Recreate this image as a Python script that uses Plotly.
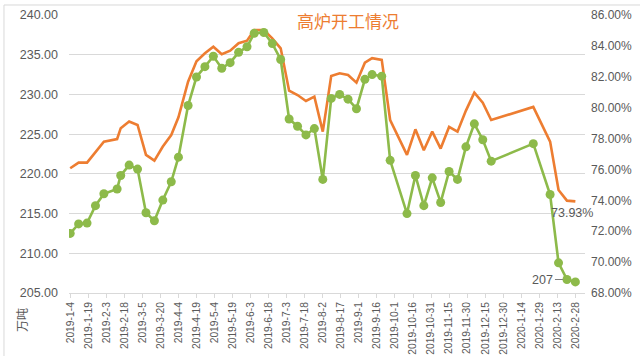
import plotly.graph_objects as go

dates = [
    "2019-01-04", "2019-01-11", "2019-01-18", "2019-01-25", "2019-02-01", "2019-02-12",
    "2019-02-15", "2019-02-22", "2019-03-01", "2019-03-08", "2019-03-15", "2019-03-22",
    "2019-03-29", "2019-04-04", "2019-04-12", "2019-04-19", "2019-04-26", "2019-05-03",
    "2019-05-10", "2019-05-17", "2019-05-24", "2019-05-31", "2019-06-06", "2019-06-14",
    "2019-06-21", "2019-06-28", "2019-07-05", "2019-07-12", "2019-07-19", "2019-07-26",
    "2019-08-02", "2019-08-09", "2019-08-16", "2019-08-23", "2019-08-30", "2019-09-06",
    "2019-09-12", "2019-09-20", "2019-09-27", "2019-10-11", "2019-10-18", "2019-10-25",
    "2019-11-01", "2019-11-08", "2019-11-15", "2019-11-22", "2019-11-29", "2019-12-06",
    "2019-12-13", "2019-12-20", "2020-01-24", "2020-02-07", "2020-02-14", "2020-02-21",
    "2020-02-28",
]

# 铁水产量 (万吨) - left axis
output = [
    212.5, 213.7, 213.8, 216.0, 217.5, 218.1,
    219.8, 221.1, 220.6, 215.1, 214.1, 216.7,
    219.0, 222.1, 228.6, 232.2, 233.5, 234.8,
    233.3, 234.0, 235.3, 236.0, 237.7, 237.8,
    236.4, 234.4, 226.9, 226.0, 224.9, 225.7,
    219.3, 229.5, 230.0, 229.4, 228.2, 231.9,
    232.5, 232.3, 221.7, 215.0, 219.8, 216.0,
    219.5, 216.4, 220.3, 219.3, 223.4, 226.3,
    224.3, 221.6, 223.8, 217.4, 208.8, 206.7,
    206.4,
]

# 高炉开工率 (%) - right axis
rate = [
    76.08, 76.44, 76.44, 77.15, 77.80, 77.97,
    78.67, 79.10, 78.88, 76.94, 76.57, 77.48,
    78.23, 79.38, 81.68, 83.00, 83.52, 83.95,
    83.46, 83.69, 84.17, 84.34, 85.03, 85.03,
    84.49, 83.84, 81.10, 80.82, 80.43, 80.71,
    78.45, 82.05, 82.23, 82.12, 81.62, 82.91,
    83.20, 83.09, 79.20, 76.94, 78.60, 77.24,
    78.45, 77.35, 78.75, 78.45, 79.81, 80.97,
    80.32, 79.20, 80.05, 77.80, 74.67, 73.98,
    73.93,
]

tick_dates = [
    "2019-01-04", "2019-01-19", "2019-02-03", "2019-02-18", "2019-03-05", "2019-03-20",
    "2019-04-04", "2019-04-19", "2019-05-04", "2019-05-19", "2019-06-03", "2019-06-18",
    "2019-07-03", "2019-07-18", "2019-08-02", "2019-08-17", "2019-09-01", "2019-09-16",
    "2019-10-01", "2019-10-16", "2019-10-31", "2019-11-15", "2019-11-30", "2019-12-15",
    "2019-12-30", "2020-01-14", "2020-01-29", "2020-02-13", "2020-02-28",
]
tick_labels = [
    "2019-1-4", "2019-1-19", "2019-2-3", "2019-2-18", "2019-3-5", "2019-3-20",
    "2019-4-4", "2019-4-19", "2019-5-4", "2019-5-19", "2019-6-3", "2019-6-18",
    "2019-7-3", "2019-7-18", "2019-8-2", "2019-8-17", "2019-9-1", "2019-9-16",
    "2019-10-1", "2019-10-16", "2019-10-31", "2019-11-15", "2019-11-30", "2019-12-15",
    "2019-12-30", "2020-1-14", "2020-1-29", "2020-2-13", "2020-2-28",
]

title_text = "高炉开工情况"
unit_text = "万吨"
output_label_text = "207"
rate_label_text = "73.93%"

ORANGE = "#ED7D31"
GREEN = "#8DBA4A"
GREY = "#595959"
GRID = "#D9D9D9"
FONT = "Liberation Sans"

fig = go.Figure()

fig.add_trace(go.Scatter(
    x=dates, y=rate, mode="lines", yaxis="y",
    line=dict(color=ORANGE, width=2.6), showlegend=False, hoverinfo="skip",
))
fig.add_trace(go.Scatter(
    x=dates, y=output, mode="lines+markers", yaxis="y2",
    line=dict(color=GREEN, width=2.6),
    marker=dict(color=GREEN, size=9), showlegend=False, hoverinfo="skip",
))

fig.update_layout(
    template="none",
    width=640, height=356,
    margin=dict(l=69, r=55, t=15, b=63, pad=0, autoexpand=False),
    paper_bgcolor="white", plot_bgcolor="white",
    font=dict(family=FONT, color=GREY),
    xaxis=dict(
        type="date", range=["2019-01-03", "2020-03-07"], automargin=False,
        tickvals=tick_dates, ticktext=tick_labels, tickangle=-90,
        tickfont=dict(size=10.3, color=GREY, family=FONT),
        showgrid=False, showline=True, linecolor=GRID, linewidth=1,
        ticks="outside", ticklen=4, tickcolor=GRID, zeroline=False,
    ),
    yaxis=dict(
        side="right", range=[68, 86], dtick=2, tick0=68, automargin=False,
        tickformat=".2f", ticksuffix="%",
        tickfont=dict(size=12, color=GREY, family=FONT),
        showgrid=False, zeroline=False, showline=False, ticks="", ticklabelstandoff=5,
    ),
    yaxis2=dict(
        side="left", overlaying="y", range=[205, 240], dtick=5, tick0=205,
        automargin=False, tickformat=".2f",
        tickfont=dict(size=12.5, color=GREY, family=FONT),
        showgrid=True, gridcolor=GRID, gridwidth=1, zeroline=False, showline=False,
        ticks="", ticklabelstandoff=10,
    ),
)

fig.add_annotation(
    text=title_text, xref="paper", yref="paper", x=0.540, y=1.0,
    xanchor="center", yanchor="middle",
    yshift=-5, showarrow=False,
    font=dict(size=17, color=ORANGE, family="Noto Sans CJK SC"),
)
fig.add_annotation(
    text=unit_text, xref="paper", yref="paper", x=-0.091, y=-0.097,
    xanchor="center", yanchor="middle", textangle=-90,
    showarrow=False, font=dict(size=12, color=GREY, family="Noto Sans CJK SC"),
)
fig.add_annotation(
    x=dates[-2], y=output[-2], xref="x", yref="y2", text=output_label_text,
    showarrow=True, arrowhead=0, arrowwidth=1, arrowcolor="#7F7F7F",
    ax=-12, ay=0, xanchor="right", standoff=4,
    font=dict(size=12.5, color=GREY, family=FONT),
)
fig.add_annotation(
    x=dates[-1], y=rate[-1], xref="x", yref="y", text=rate_label_text,
    showarrow=False, xanchor="center", yanchor="top", yshift=-3, xshift=-3,
    font=dict(size=12.5, color=GREY, family=FONT),
)

fig.add_shape(type="line", xref="paper", yref="paper",
              x0=-0.126, x1=1.11, y0=1.036, y1=1.036,
              line=dict(color="#D9D9D9", width=1))
fig.add_shape(type="line", xref="paper", yref="paper",
              x0=-0.126, x1=-0.126, y0=1.036, y1=-0.23,
              line=dict(color="#D9D9D9", width=1))

fig.write_html(
    "out.html",
    config={"displayModeBar": False, "staticPlot": True},
    post_script="document.body.style.margin='0px';document.body.style.padding='0px';",
)
